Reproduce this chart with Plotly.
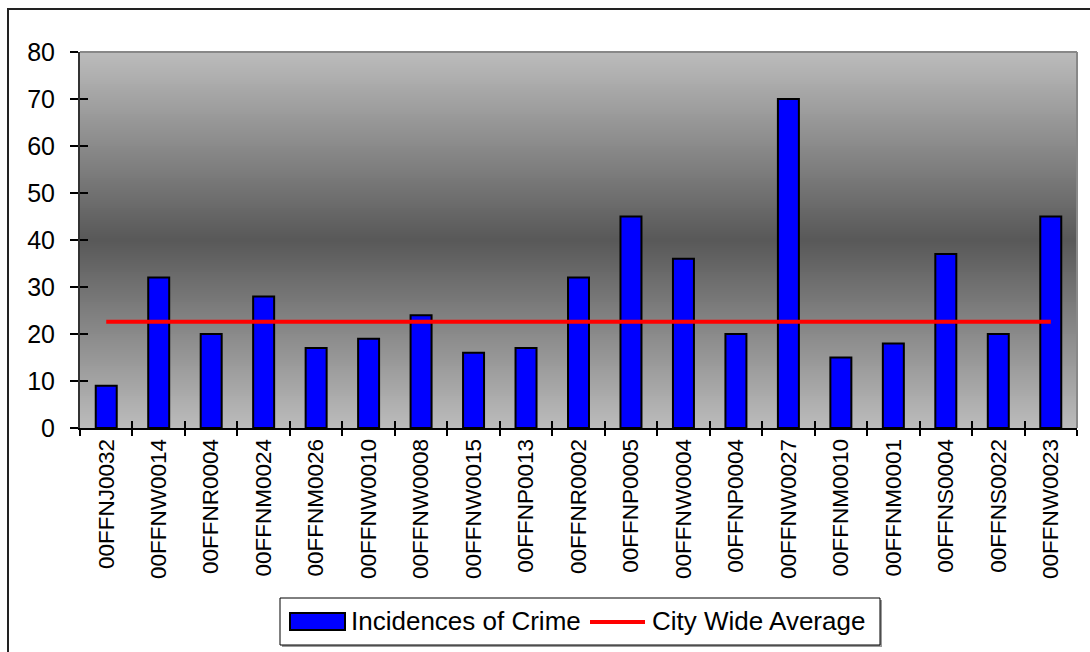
import plotly.graph_objects as go

# Precinct codes and their counts
categories = [
    "00FFNJ0032", "00FFNW0014", "00FFNR0004", "00FFNM0024", "00FFNM0026",
    "00FFNW0010", "00FFNW0008", "00FFNW0015", "00FFNP0013", "00FFNR0002",
    "00FFNP0005", "00FFNW0004", "00FFNP0004", "00FFNW0027", "00FFNM0010",
    "00FFNM0001", "00FFNS0004", "00FFNS0022", "00FFNW0023",
]
crime_counts = [9, 32, 20, 28, 17, 19, 24, 16, 17, 32, 45, 36, 20, 70, 15, 18, 37, 20, 45]
city_average = 22.6
y_ticks = [0, 10, 20, 30, 40, 50, 60, 70, 80]

W, H = 1090, 652
L, R, T, B = 80, 13, 52, 224
PW, PH = W - L - R, H - T - B
FONT = "Liberation Sans, Arial, sans-serif"


def px_x(px):
    return (px - L) / PW


def px_y(py):
    return (H - B - py) / PH


fig = go.Figure()

fig.add_trace(go.Bar(
    x=categories, y=crime_counts, name="Incidences of Crime",
    marker=dict(color="#0000FF", line=dict(color="#000000", width=2)),
    showlegend=False, hoverinfo="x+y",
))
fig.add_trace(go.Scatter(
    x=categories, y=[city_average] * len(categories), name="City Wide Average",
    mode="lines", line=dict(color="#FF0000", width=4),
    showlegend=False,
))
# invisible helper on overlay axes so the inner half of the crossing ticks renders
fig.add_trace(go.Scatter(
    x=categories, y=crime_counts, xaxis="x2", yaxis="y2",
    mode="markers", marker=dict(opacity=0), hoverinfo="skip", showlegend=False,
))

shapes = []

# vertical grey gradient: light at top/bottom, dark in the middle
n = 188
light, dark = 0xBC, 0x58
center = 0.5
for i in range(n):
    y0 = i / n
    mid = (i + 0.5) / n
    t = abs(mid - center) / 0.5
    v = int(round(dark + (light - dark) * t))
    c = f"rgb({v},{v},{v})"
    # each strip overlaps the next so no seams show between them
    shapes.append(dict(type="rect", xref="x domain", yref="y domain",
                       x0=0, x1=1, y0=y0, y1=min(1.0, y0 + 2.0 / n),
                       fillcolor=c, line=dict(width=0), layer="below"))

# plot-area frame (top and right edges)
shapes.append(dict(type="line", xref="paper", yref="paper", x0=0, x1=1, y0=1, y1=1,
                   line=dict(color="#888888", width=2)))
shapes.append(dict(type="line", xref="paper", yref="paper", x0=1, x1=1, y0=0, y1=1,
                   line=dict(color="#888888", width=2)))

# outer chart border
shapes.append(dict(type="rect", xref="paper", yref="paper",
                   x0=px_x(8), x1=px_x(1120), y0=px_y(700), y1=px_y(9),
                   line=dict(color="#222222", width=2), fillcolor="rgba(0,0,0,0)"))

# legend box
lg_l, lg_r, lg_t, lg_b = 280, 880, 598, 645
shapes.append(dict(type="rect", xref="paper", yref="paper",
                   x0=px_x(lg_l + 2), x1=px_x(lg_r + 2), y0=px_y(lg_b + 2), y1=px_y(lg_t + 2),
                   line=dict(width=0), fillcolor="#9a9a9a"))
shapes.append(dict(type="rect", xref="paper", yref="paper",
                   x0=px_x(lg_l), x1=px_x(lg_r), y0=px_y(lg_b), y1=px_y(lg_t),
                   line=dict(color="#000000", width=1), fillcolor="#FFFFFF"))
# bar swatch
shapes.append(dict(type="rect", xref="paper", yref="paper",
                   x0=px_x(290), x1=px_x(345), y0=px_y(630), y1=px_y(613),
                   line=dict(color="#000000", width=2), fillcolor="#0000FF"))
# line swatch
shapes.append(dict(type="line", xref="paper", yref="paper",
                   x0=px_x(590), x1=px_x(645), y0=px_y(622), y1=px_y(622),
                   line=dict(color="#FF0000", width=4)))

annotations = [
    dict(text="Incidences of Crime", xref="paper", yref="paper",
         x=px_x(349), y=px_y(621), xanchor="left", yanchor="middle",
         showarrow=False, font=dict(family=FONT, size=26, color="#000000")),
    dict(text="City Wide Average", xref="paper", yref="paper",
         x=px_x(650), y=px_y(621), xanchor="left", yanchor="middle",
         showarrow=False, font=dict(family=FONT, size=26, color="#000000")),
]

fig.update_layout(
    width=W, height=H,
    margin=dict(l=L, r=R, t=T, b=B, pad=0),
    paper_bgcolor="#FFFFFF",
    plot_bgcolor="rgba(0,0,0,0)",
    bargap=0.6,
    showlegend=False,
    font=dict(family=FONT, color="#000000"),
    xaxis=dict(
        type="category", categoryorder="array", categoryarray=categories,
        range=[-0.5, len(categories) - 0.5],
        tickangle=-90, tickfont=dict(size=22.5, family=FONT),
        ticks="outside", ticklen=6, tickwidth=1.5, tickcolor="#000000",
        tickson="boundaries",
        showline=True, linecolor="#000000", linewidth=2,
        showgrid=False, zeroline=False, fixedrange=True,
    ),
    xaxis2=dict(
        type="category", categoryorder="array", categoryarray=categories,
        range=[-0.5, len(categories) - 0.5], overlaying="x", side="bottom",
        ticks="inside", ticklen=7, tickwidth=1.5, tickcolor="#000000",
        tickson="boundaries", showticklabels=False,
        showline=False, showgrid=False, zeroline=False, fixedrange=True,
    ),
    yaxis=dict(
        range=[0, 80], tickmode="array", tickvals=y_ticks,
        tickfont=dict(size=25, family=FONT),
        ticks="outside", ticklen=8, tickwidth=1.5, tickcolor="#000000",
        ticklabelstandoff=10,
        showline=True, linecolor="#333333", linewidth=2,
        showgrid=False, zeroline=False, fixedrange=True,
    ),
    yaxis2=dict(
        range=[0, 80], tickmode="array", tickvals=y_ticks, overlaying="y", side="left",
        ticks="inside", ticklen=8, tickwidth=1.5, tickcolor="#000000",
        showticklabels=False, showline=False, showgrid=False, zeroline=False,
        fixedrange=True,
    ),
    shapes=shapes,
    annotations=annotations,
)

fig.write_html("out.html")
